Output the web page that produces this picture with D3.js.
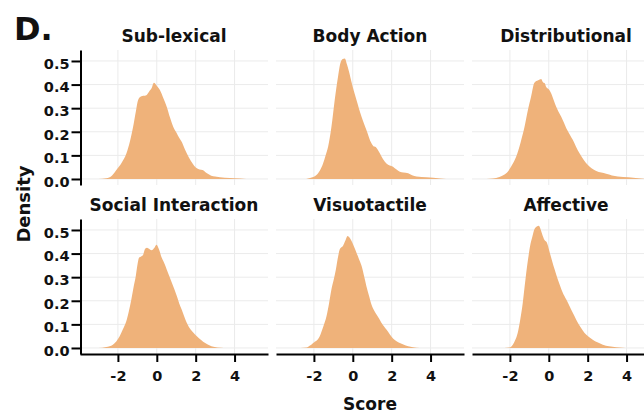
<!DOCTYPE html>
<html>
<head>
<meta charset="utf-8">
<script src="https://cdn.jsdelivr.net/npm/d3@7"></script>
<style>
  html, body { margin: 0; padding: 0; background: #fff; }
  svg { display: block; }
  text { font-family: "DejaVu Sans", sans-serif; font-weight: bold; fill: #111; }
</style>
</head>
<body>
<svg id="chart" width="644" height="414"></svg>
<script>
// ---- Data ----
const panelTitles = ["Sub-lexical", "Body Action", "Distributional",
                     "Social Interaction", "Visuotactile", "Affective"];
const xTicks = [-2, 0, 2, 4];
const yTicks = [0, 0.1, 0.2, 0.3, 0.4, 0.5];
const xLabel = "Score";
const yLabel = "Density";
const panelTag = "D.";

// density curves: [score, density]
const subLexical = [[-3.0,0],[-2.6,0.003],[-2.3,0.015],[-2.08,0.038],[-1.8,0.07],[-1.56,0.109],[-1.38,0.16],[-1.22,0.22],[-1.08,0.285],[-0.96,0.335],[-0.82,0.35],[-0.54,0.355],[-0.4,0.37],[-0.27,0.384],[-0.15,0.408],[0.0,0.395],[0.16,0.377],[0.35,0.34],[0.51,0.306],[0.68,0.26],[0.85,0.22],[1.02,0.195],[1.15,0.175],[1.28,0.158],[1.45,0.125],[1.63,0.094],[1.85,0.065],[2.06,0.045],[2.2,0.04],[2.35,0.038],[2.58,0.024],[2.8,0.014],[3.0,0.01],[3.5,0.005],[4.0,0.003],[4.6,0]];
const bodyAction = [[-2.4,0],[-2.2,0.004],[-1.87,0.017],[-1.7,0.035],[-1.53,0.066],[-1.4,0.1],[-1.27,0.137],[-1.1,0.22],[-0.93,0.335],[-0.76,0.433],[-0.64,0.49],[-0.52,0.508],[-0.41,0.511],[-0.29,0.483],[-0.18,0.45],[-0.07,0.412],[0.19,0.335],[0.45,0.264],[0.7,0.208],[0.96,0.151],[1.05,0.14],[1.18,0.135],[1.39,0.109],[1.55,0.085],[1.73,0.066],[2.07,0.052],[2.25,0.04],[2.42,0.031],[2.6,0.027],[2.85,0.024],[3.05,0.016],[3.28,0.011],[3.79,0.007],[4.5,0.002],[4.8,0]];
const distributional = [[-3.2,0],[-2.88,0.002],[-2.54,0.008],[-2.3,0.018],[-2.11,0.031],[-1.9,0.058],[-1.68,0.094],[-1.45,0.155],[-1.25,0.22],[-1.08,0.29],[-0.91,0.349],[-0.74,0.408],[-0.55,0.418],[-0.39,0.424],[-0.3,0.41],[-0.2,0.405],[-0.14,0.391],[0.0,0.38],[0.12,0.363],[0.25,0.335],[0.38,0.306],[0.5,0.285],[0.64,0.264],[0.77,0.24],[0.9,0.215],[1.07,0.19],[1.24,0.165],[1.4,0.137],[1.58,0.109],[1.8,0.08],[2.01,0.059],[2.2,0.045],[2.44,0.034],[2.7,0.027],[2.95,0.022],[3.25,0.015],[3.55,0.011],[4.1,0.007],[4.6,0.003],[5.0,0]];
const socialInteraction = [[-3.0,0],[-2.6,0.004],[-2.26,0.014],[-1.91,0.05],[-1.75,0.078],[-1.57,0.113],[-1.44,0.155],[-1.31,0.205],[-1.2,0.255],[-1.08,0.305],[-0.98,0.36],[-0.91,0.383],[-0.8,0.388],[-0.7,0.395],[-0.6,0.42],[-0.5,0.425],[-0.4,0.42],[-0.27,0.414],[-0.12,0.425],[-0.01,0.437],[0.1,0.42],[0.25,0.383],[0.38,0.36],[0.51,0.333],[0.64,0.305],[0.77,0.277],[0.9,0.25],[1.03,0.22],[1.15,0.19],[1.28,0.163],[1.45,0.125],[1.63,0.092],[1.85,0.068],[2.06,0.05],[2.28,0.034],[2.49,0.021],[2.7,0.012],[2.92,0.005],[3.3,0.001],[3.6,0]];
const visuotactile = [[-2.7,0],[-2.38,0.002],[-2.2,0.01],[-2.04,0.021],[-1.7,0.05],[-1.52,0.09],[-1.35,0.135],[-1.22,0.19],[-1.1,0.248],[-0.98,0.29],[-0.87,0.333],[-0.75,0.39],[-0.67,0.418],[-0.5,0.433],[-0.38,0.455],[-0.27,0.475],[-0.17,0.468],[-0.07,0.454],[0.06,0.43],[0.19,0.404],[0.32,0.376],[0.45,0.348],[0.58,0.305],[0.7,0.262],[0.83,0.222],[0.96,0.184],[1.09,0.16],[1.22,0.142],[1.35,0.125],[1.48,0.106],[1.6,0.092],[1.73,0.078],[1.9,0.058],[2.07,0.04],[2.25,0.028],[2.42,0.021],[2.6,0.015],[2.85,0.007],[3.1,0.003],[3.45,0]];
const affective = [[-2.3,0],[-2.02,0.002],[-1.85,0.014],[-1.72,0.035],[-1.6,0.064],[-1.47,0.12],[-1.34,0.191],[-1.25,0.255],[-1.16,0.319],[-1.06,0.38],[-0.96,0.433],[-0.85,0.47],[-0.74,0.503],[-0.62,0.515],[-0.51,0.518],[-0.41,0.5],[-0.31,0.475],[-0.2,0.455],[-0.1,0.447],[0.03,0.41],[0.17,0.369],[0.31,0.33],[0.46,0.291],[0.59,0.262],[0.72,0.234],[0.9,0.205],[1.07,0.177],[1.24,0.148],[1.41,0.12],[1.62,0.09],[1.84,0.064],[2.05,0.048],[2.26,0.035],[2.5,0.024],[2.78,0.014],[3.1,0.007],[3.47,0.003],[3.8,0.001],[4.1,0]];

const seriesList = [subLexical, bodyAction, distributional, socialInteraction, visuotactile, affective];

// ---- Layout ----
const colLefts = [80, 276, 472];
const rowTops = [50, 219];
const panelW = 188, panelH = 135;
const fillColor = "#EFB27A";
const gridColor = "#EBEBEB";

const svg = d3.select("#chart");

const x = d3.scaleLinear().domain([-3.95, 5.72]).range([0, panelW]);
const y = d3.scaleLinear().domain([-0.0255, 0.5465]).range([panelH, 0]);

const area = d3.area()
  .x(d => x(d[0]))
  .y0(y(0))
  .y1(d => y(d[1]))
  .curve(d3.curveMonotoneX);

panelTitles.forEach((title, i) => {
  const col = i % 3, row = Math.floor(i / 3);
  const g = svg.append("g").attr("transform", `translate(${colLefts[col]},${rowTops[row]})`);

  // gridlines
  g.selectAll(".vg").data(xTicks).join("line")
    .attr("x1", d => x(d)).attr("x2", d => x(d))
    .attr("y1", 0).attr("y2", panelH)
    .attr("stroke", gridColor).attr("stroke-width", 1);
  g.selectAll(".hg").data(yTicks).join("line")
    .attr("x1", 0).attr("x2", panelW)
    .attr("y1", d => y(d)).attr("y2", d => y(d))
    .attr("stroke", gridColor).attr("stroke-width", 1);

  // density area
  g.append("path").datum(seriesList[i])
    .attr("d", area)
    .attr("fill", fillColor);

  // strip title
  g.append("text")
    .attr("x", panelW / 2).attr("y", -8)
    .attr("text-anchor", "middle")
    .attr("font-size", 17)
    .text(title);

  // left axis
  if (col === 0) {
    const ya = g.append("g").attr("transform", "translate(0.5,0)")
      .call(d3.axisLeft(y).tickValues(yTicks).tickFormat(d3.format(".1f"))
        .tickSize(9).tickSizeOuter(0).tickPadding(2));
    ya.select(".domain").attr("stroke", "#000").attr("stroke-width", 2);
    ya.selectAll(".tick line").attr("stroke", "#000").attr("stroke-width", 2);
    ya.selectAll(".tick text").attr("font-size", 14.5).attr("font-family", "DejaVu Sans")
      .attr("font-weight", "bold").attr("fill", "#111").attr("dy", "0.5em");
  }
  // bottom axis
  if (row === 1) {
    const xa = g.append("g").attr("transform", `translate(0,${panelH})`)
      .call(d3.axisBottom(x).tickValues(xTicks).tickFormat(d => String(d))
        .tickSize(8).tickSizeOuter(0).tickPadding(9));
    xa.select(".domain").attr("stroke", "#000").attr("stroke-width", 2);
    xa.selectAll(".tick line").attr("stroke", "#000").attr("stroke-width", 2);
    xa.selectAll(".tick text").attr("font-size", 14.5).attr("font-family", "DejaVu Sans")
      .attr("font-weight", "bold").attr("fill", "#111");
  }
});

// axis titles
svg.append("text")
  .attr("x", colLefts[1] + panelW / 2).attr("y", 409.5)
  .attr("text-anchor", "middle").attr("font-size", 17)
  .text(xLabel);

svg.append("text")
  .attr("transform", "translate(29.5,204) rotate(-90)")
  .attr("text-anchor", "middle").attr("font-size", 18)
  .text(yLabel);

// panel tag
svg.append("text")
  .attr("x", 14).attr("y", 40)
  .attr("font-size", 32)
  .text(panelTag);
</script>
</body>
</html>
